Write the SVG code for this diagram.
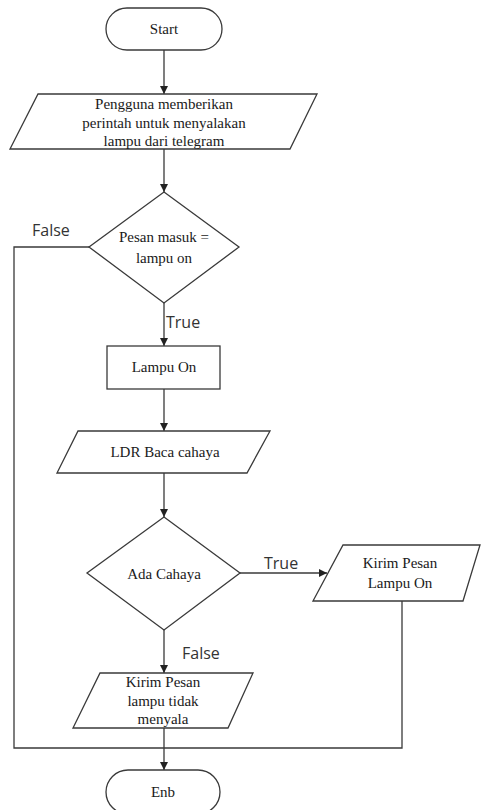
<svg xmlns="http://www.w3.org/2000/svg" width="482" height="810" viewBox="0 0 482 810">
  <style>
    .shape { fill: #ffffff; stroke: #3a3a3a; stroke-width: 1.3; }
    .edge { fill: none; stroke: #3a3a3a; stroke-width: 1.3; }
    .label { font-family: "Liberation Serif", "Times New Roman", serif; font-size: 15px; fill: #1a1a1a; text-anchor: middle; dominant-baseline: central; }
    .cond { font-family: "Open Sans", "Liberation Sans", sans-serif; font-size: 16px; fill: #333333; dominant-baseline: central; }
  </style>
  <defs>
    <marker id="arrow" viewBox="0 0 10 10" refX="10" refY="5" markerWidth="8" markerHeight="8" markerUnits="userSpaceOnUse" orient="auto">
      <path d="M0,0 L10,5 L0,10 Z" fill="#222222"/>
    </marker>
  </defs>
  <rect width="482" height="810" fill="#ffffff"/>

  <!-- connectors -->
  <g id="connectors">
    <path class="edge" d="M164,50 V94" marker-end="url(#arrow)"/>
    <path class="edge" d="M164,149 V192" marker-end="url(#arrow)"/>
    <path class="edge" d="M164,303 V346" marker-end="url(#arrow)"/>
    <path class="edge" d="M164,389 V431" marker-end="url(#arrow)"/>
    <path class="edge" d="M164,473 V517" marker-end="url(#arrow)"/>
    <path class="edge" d="M240,573 H327" marker-end="url(#arrow)"/>
    <path class="edge" d="M164,630 V673" marker-end="url(#arrow)"/>
    <path class="edge" d="M164,728 V770" marker-end="url(#arrow)"/>
    <!-- false branch of first decision and return from message node -->
    <path class="edge" d="M89,247 H14 V748 H402 V601"/>
    <text class="cond" x="32" y="230">False</text>
    <text class="cond" x="166" y="322">True</text>
    <text class="cond" x="264" y="563">True</text>
    <text class="cond" x="182" y="653">False</text>
  </g>

  <g id="start">
    <rect class="shape" x="106" y="8" width="116" height="42" rx="21" ry="21"/>
    <text class="label" x="164" y="29">Start</text>
  </g>

  <g id="input-command">
    <polygon class="shape" points="38,94 317,94 290,149 10,149"/>
    <text class="label" x="164" y="104">Pengguna memberikan</text>
    <text class="label" x="164" y="123">perintah untuk menyalakan</text>
    <text class="label" x="164" y="141">lampu dari telegram</text>
  </g>

  <g id="check-message">
    <polygon class="shape" points="164,192 239,247 164,303 89,247"/>
    <text class="label" x="164" y="237">Pesan masuk =</text>
    <text class="label" x="164" y="258">lampu on</text>
  </g>

  <g id="lamp-on">
    <rect class="shape" x="107" y="346" width="113" height="43"/>
    <text class="label" x="164" y="367">Lampu On</text>
  </g>

  <g id="read-ldr">
    <polygon class="shape" points="78,431 270,431 247,473 57,473"/>
    <text class="label" x="165" y="452">LDR Baca cahaya</text>
  </g>

  <g id="check-light">
    <polygon class="shape" points="164,517 240,573 164,630 87,573"/>
    <text class="label" x="164" y="574">Ada Cahaya</text>
  </g>

  <g id="send-on">
    <polygon class="shape" points="343,545 480,545 463,601 313,601"/>
    <text class="label" x="400" y="563">Kirim Pesan</text>
    <text class="label" x="400" y="583">Lampu On</text>
  </g>

  <g id="send-off">
    <polygon class="shape" points="100,673 253,673 228,728 73,728"/>
    <text class="label" x="163" y="682">Kirim Pesan</text>
    <text class="label" x="163" y="701">lampu tidak</text>
    <text class="label" x="163" y="719">menyala</text>
  </g>

  <g id="end">
    <rect class="shape" x="106" y="770" width="114" height="44" rx="22" ry="22"/>
    <text class="label" x="163" y="792">Enb</text>
  </g>
</svg>
